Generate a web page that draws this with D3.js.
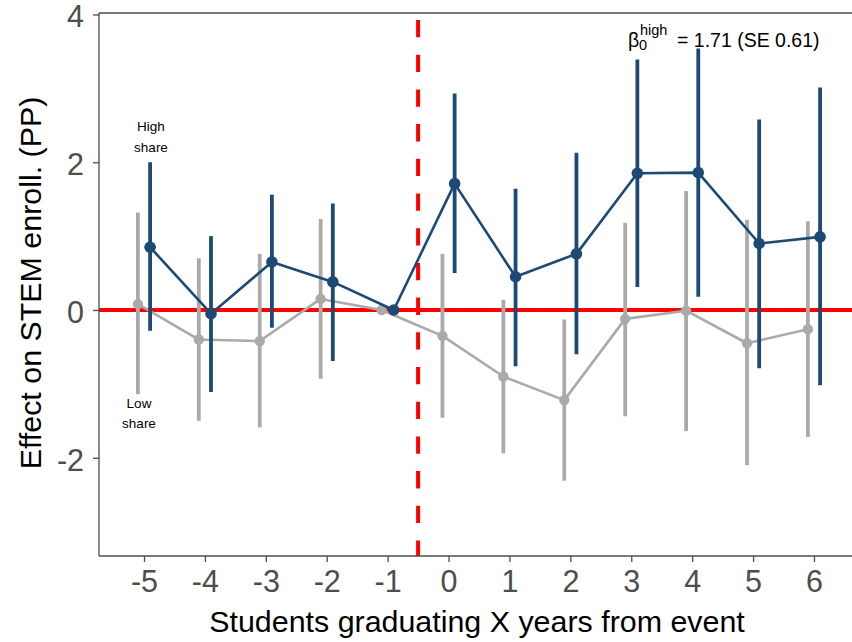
<!DOCTYPE html>
<html>
<head>
<meta charset="utf-8">
<script src="https://cdn.jsdelivr.net/npm/d3@7"></script>
<style>
  html, body { margin: 0; padding: 0; background: #fff; }
  svg { display: block; font-family: "Liberation Sans", Arial, Helvetica, sans-serif; }
</style>
</head>
<body>
<svg id="chart" width="852" height="642"></svg>
<script>
// Event-time bins (years from event)
const years = [-5, -4, -3, -2, -1, 0, 1, 2, 3, 4, 5, 6];

// High-share group: estimates and 95% CI bounds (percentage points)
const highEst   = [0.85, -0.05, 0.65, 0.38, 0.00, 1.71, 0.45, 0.76, 1.85, 1.86, 0.90, 0.99];
const highLower = [-0.28, -1.11, -0.24, -0.69, 0.00, 0.50, -0.76, -0.60, 0.31, 0.18, -0.79, -1.02];
const highUpper = [2.00, 1.00, 1.56, 1.44, 0.00, 2.93, 1.64, 2.13, 3.39, 3.54, 2.58, 3.01];

// Low-share group
const lowEst   = [0.08, -0.40, -0.42, 0.15, 0.00, -0.35, -0.90, -1.22, -0.12, -0.01, -0.45, -0.26];
const lowLower = [-1.14, -1.50, -1.59, -0.93, 0.00, -1.46, -1.94, -2.31, -1.44, -1.64, -2.10, -1.72];
const lowUpper = [1.32, 0.70, 0.76, 1.23, 0.00, 0.76, 0.14, -0.13, 1.18, 1.61, 1.22, 1.20];

const yTicks = [-2, 0, 2, 4];
const yTickLabels = ["-2", "0", "2", "4"];
const xTickLabels = ["-5", "-4", "-3", "-2", "-1", "0", "1", "2", "3", "4", "5", "6"];

const svg = d3.select("#chart");
const W = 852, H = 642;
const panel = { left: 99, top: 13, bottom: 556, right: 859 };

const x = d3.scaleLinear().domain([-5.739, 6.739]).range([panel.left, panel.right]);
const y = d3.scaleLinear().domain([-3.33, 4.02]).range([panel.bottom, panel.top]);

const navy = "#1c4a74";
const grey = "#aaaaaa";
const axisGrey = "#4d4d4d";
const dodge = 0.1;

// clip data layer to the panel
svg.append("defs").append("clipPath").attr("id", "panelClip")
  .append("rect").attr("x", panel.left).attr("y", panel.top)
  .attr("width", W - panel.left).attr("height", panel.bottom - panel.top);

const plot = svg.append("g").attr("clip-path", "url(#panelClip)");

// reference lines
plot.append("line")
  .attr("x1", panel.left).attr("x2", W)
  .attr("y1", y(0)).attr("y2", y(0))
  .attr("stroke", "#ff0000").attr("stroke-width", 4);

plot.append("line")
  .attr("x1", x(-0.5)).attr("x2", x(-0.5))
  .attr("y1", panel.top).attr("y2", panel.bottom)
  .attr("stroke", "#ff0000").attr("stroke-width", 4)
  .attr("stroke-dasharray", "17.3 17.4")
  .attr("stroke-dashoffset", 27.7);

function drawSeries(est, lo, hi, offset, color, lineW, barW, r) {
  const pts = years.map((yr, i) => ({ yr: yr + offset, est: est[i], lo: lo[i], hi: hi[i] }));
  const g = plot.append("g");
  g.selectAll("line.ci").data(pts.filter(d => d.hi !== d.lo)).join("line")
    .attr("class", "ci")
    .attr("x1", d => x(d.yr)).attr("x2", d => x(d.yr))
    .attr("y1", d => y(d.lo)).attr("y2", d => y(d.hi))
    .attr("stroke", color).attr("stroke-width", barW);
  g.append("path").datum(pts)
    .attr("d", d3.line().x(d => x(d.yr)).y(d => y(d.est)))
    .attr("fill", "none").attr("stroke", color).attr("stroke-width", lineW)
    .attr("stroke-linejoin", "round");
  g.selectAll("circle").data(pts).join("circle")
    .attr("cx", d => x(d.yr)).attr("cy", d => y(d.est)).attr("r", r)
    .attr("fill", color);
}

drawSeries(lowEst, lowLower, lowUpper, -dodge, grey, 2.6, 3.8, 5.2);
drawSeries(highEst, highLower, highUpper, dodge, navy, 2.6, 3.8, 5.8);

// panel top border
svg.append("line").attr("x1", panel.left).attr("x2", W)
  .attr("y1", panel.top).attr("y2", panel.top)
  .attr("stroke", axisGrey).attr("stroke-width", 1.3);

// axes
const yAxis = svg.append("g").attr("transform", `translate(${panel.left},0)`)
  .call(d3.axisLeft(y).tickValues(yTicks).tickSize(6).tickPadding(9)
    .tickFormat((d, i) => yTickLabels[i]));
const xAxis = svg.append("g").attr("transform", `translate(0,${panel.bottom})`)
  .call(d3.axisBottom(x).tickValues(years).tickSize(6).tickPadding(8)
    .tickFormat((d, i) => xTickLabels[i]));

[yAxis, xAxis].forEach(a => {
  a.select(".domain").attr("stroke", axisGrey).attr("stroke-width", 1.3);
  a.selectAll(".tick line").attr("stroke", axisGrey).attr("stroke-width", 1.3);
  a.selectAll(".tick text").attr("fill", axisGrey)
    .style("font-size", "30.5px").style("font-family", "\"Liberation Sans\", Arial, sans-serif");
});
yAxis.selectAll(".tick text").attr("dy", "0.41em");
yAxis.select(".domain").attr("d", `M0,${panel.top}V${panel.bottom}`);
xAxis.select(".domain").attr("d", `M${panel.left},0H${W}`);

// axis titles
svg.append("text")
  .attr("x", 477).attr("y", 632)
  .attr("text-anchor", "middle")
  .style("font-size", "30.4px").attr("fill", "#000")
  .text("Students graduating X years from event");

svg.append("text")
  .attr("transform", `translate(41,283) rotate(-90)`)
  .attr("text-anchor", "middle")
  .style("font-size", "30.4px").attr("fill", "#000")
  .text("Effect on STEM enroll. (PP)");

// group labels
const lab = svg.append("g").style("font-size", "13.5px").attr("fill", "#000").attr("text-anchor", "middle");
lab.append("text").attr("x", 151).attr("y", 131).text("High");
lab.append("text").attr("x", 151).attr("y", 152).text("share");
lab.append("text").attr("x", 139).attr("y", 408).text("Low");
lab.append("text").attr("x", 139).attr("y", 428).text("share");

// coefficient annotation
const ann = svg.append("g").attr("fill", "#000");
ann.append("text").attr("x", 628).attr("y", 47).style("font-size", "19.5px").text("β");
ann.append("text").attr("x", 640).attr("y", 35).style("font-size", "14.5px").text("high");
ann.append("text").attr("x", 639).attr("y", 50).style("font-size", "14.5px").text("0");
ann.append("text").attr("x", 677).attr("y", 47).style("font-size", "19.5px").text("= 1.71 (SE 0.61)");
</script>
</body>
</html>
